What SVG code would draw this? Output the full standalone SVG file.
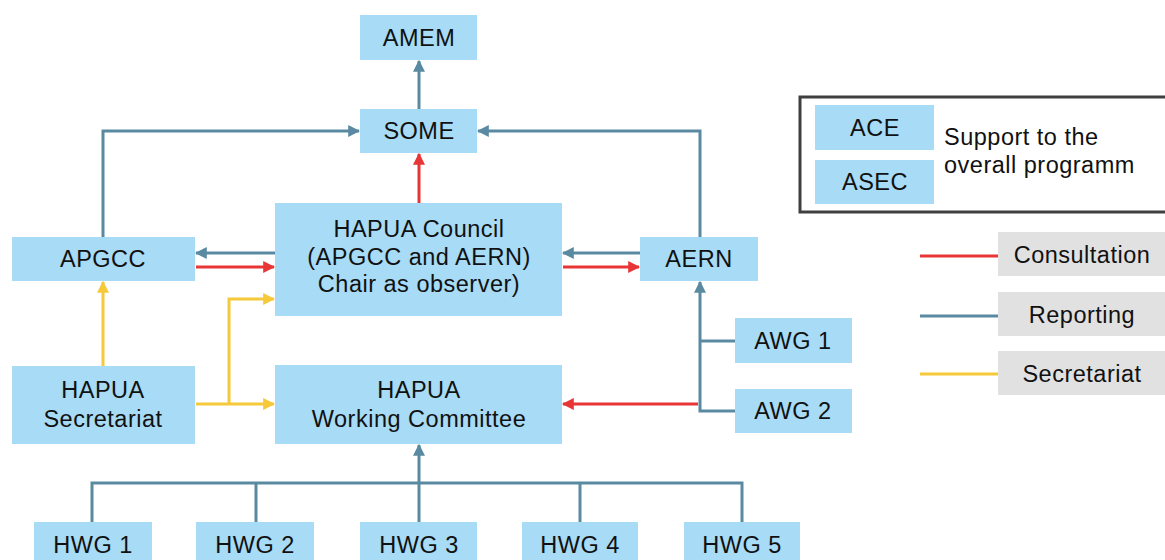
<svg xmlns="http://www.w3.org/2000/svg" width="1165" height="560" viewBox="0 0 1165 560">
  <style>
    .box { fill: #a7dbf6; }
    .tag { fill: #e1e1e1; }
    .lbl { font-family: "Liberation Sans", Arial, sans-serif; font-size: 23.5px; letter-spacing: 0.5px; fill: #111; text-anchor: middle; }
    .note { font-family: "Liberation Sans", Arial, sans-serif; font-size: 23.5px; letter-spacing: 0.5px; fill: #111; }
    .rep { stroke: #5a8aa2; stroke-width: 3; fill: none; }
    .con { stroke: #e83536; stroke-width: 3; fill: none; }
    .sec { stroke: #f5c93a; stroke-width: 3; fill: none; }
  </style>
  <defs>
    <marker id="aRep" viewBox="0 0 10 10" refX="9" refY="5" markerWidth="4" markerHeight="4" orient="auto" markerUnits="strokeWidth">
      <path d="M0,0 L10,5 L0,10 z" fill="#5a8aa2"/>
    </marker>
    <marker id="aCon" viewBox="0 0 10 10" refX="9" refY="5" markerWidth="4" markerHeight="4" orient="auto" markerUnits="strokeWidth">
      <path d="M0,0 L10,5 L0,10 z" fill="#e83536"/>
    </marker>
    <marker id="aSec" viewBox="0 0 10 10" refX="9" refY="5" markerWidth="4" markerHeight="4" orient="auto" markerUnits="strokeWidth">
      <path d="M0,0 L10,5 L0,10 z" fill="#f5c93a"/>
    </marker>
  </defs>

  <rect width="1165" height="560" fill="#ffffff"/>

  <!-- connectors -->
  <g id="connectors">
    <!-- reporting -->
    <path class="rep" d="M419,109 V61" marker-end="url(#aRep)"/>
    <path class="rep" d="M103,237 V131 H359" marker-end="url(#aRep)"/>
    <path class="rep" d="M700,237 V131 H478" marker-end="url(#aRep)"/>
    <path class="rep" d="M275,253 H196" marker-end="url(#aRep)"/>
    <path class="rep" d="M640,253 H563" marker-end="url(#aRep)"/>
    <path class="rep" d="M735,341 H700"/>
    <path class="rep" d="M735,411 H700 V282" marker-end="url(#aRep)"/>
    <path class="rep" d="M92,522 V483 H742 V522"/>
    <path class="rep" d="M256,522 V483"/>
    <path class="rep" d="M580,522 V483"/>
    <path class="rep" d="M419,522 V445" marker-end="url(#aRep)"/>
    <!-- consultation -->
    <path class="con" d="M419,203 V154" marker-end="url(#aCon)"/>
    <path class="con" d="M196,267 H274" marker-end="url(#aCon)"/>
    <path class="con" d="M563,267 H639" marker-end="url(#aCon)"/>
    <path class="con" d="M698,404 H563" marker-end="url(#aCon)"/>
    <!-- secretariat -->
    <path class="sec" d="M103,366 V282" marker-end="url(#aSec)"/>
    <path class="sec" d="M196,404 H274" marker-end="url(#aSec)"/>
    <path class="sec" d="M229,404 V299 H274" marker-end="url(#aSec)"/>
  </g>

  <g id="amem"><rect class="box" x="360" y="15" width="117" height="45"/><text class="lbl" x="419" y="46">AMEM</text></g>
  <g id="some"><rect class="box" x="360" y="109" width="117" height="44"/><text class="lbl" x="419" y="139">SOME</text></g>
  <g id="council">
    <rect class="box" x="275" y="203" width="287" height="113"/>
    <text class="lbl" x="419" y="237">HAPUA Council</text>
    <text class="lbl" x="419" y="264.5">(APGCC and AERN)</text>
    <text class="lbl" x="419" y="292">Chair as observer)</text>
  </g>
  <g id="apgcc"><rect class="box" x="12" y="237" width="183" height="44"/><text class="lbl" x="103" y="267">APGCC</text></g>
  <g id="aern"><rect class="box" x="640" y="237" width="118" height="44"/><text class="lbl" x="699" y="267">AERN</text></g>
  <g id="secretariat">
    <rect class="box" x="12" y="366" width="183" height="78"/>
    <text class="lbl" x="103" y="398">HAPUA</text>
    <text class="lbl" x="103" y="427">Secretariat</text>
  </g>
  <g id="working-committee">
    <rect class="box" x="275" y="365" width="287" height="79"/>
    <text class="lbl" x="419" y="398">HAPUA</text>
    <text class="lbl" x="419" y="427">Working Committee</text>
  </g>
  <g id="awg1"><rect class="box" x="735" y="318" width="117" height="45"/><text class="lbl" x="793" y="349">AWG 1</text></g>
  <g id="awg2"><rect class="box" x="735" y="389" width="117" height="44"/><text class="lbl" x="793" y="419">AWG 2</text></g>
  <g id="hwg1"><rect class="box" x="34" y="522" width="118" height="45"/><text class="lbl" x="93" y="553">HWG 1</text></g>
  <g id="hwg2"><rect class="box" x="196" y="522" width="118" height="45"/><text class="lbl" x="255" y="553">HWG 2</text></g>
  <g id="hwg3"><rect class="box" x="360" y="522" width="117" height="45"/><text class="lbl" x="419" y="553">HWG 3</text></g>
  <g id="hwg4"><rect class="box" x="522" y="522" width="116" height="45"/><text class="lbl" x="580" y="553">HWG 4</text></g>
  <g id="hwg5"><rect class="box" x="684" y="522" width="116" height="45"/><text class="lbl" x="742" y="553">HWG 5</text></g>

  <!-- support bodies -->
  <g id="support">
    <rect x="800" y="97" width="370" height="115" fill="#ffffff" stroke="#3f3f3f" stroke-width="3"/>
    <rect class="box" x="815" y="105" width="119" height="45"/>
    <text class="lbl" x="875" y="136">ACE</text>
    <rect class="box" x="815" y="160" width="119" height="44"/>
    <text class="lbl" x="875" y="190">ASEC</text>
    <text class="note" x="944" y="145">Support to the</text>
    <text class="note" x="944" y="173">overall programm</text>
  </g>

  <!-- line legend -->
  <g id="legend">
    <line class="con" x1="920" y1="256" x2="998" y2="256"/>
    <rect class="tag" x="998" y="232" width="167" height="44"/>
    <text class="lbl" x="1082" y="263">Consultation</text>
    <line class="rep" x1="920" y1="316" x2="998" y2="316"/>
    <rect class="tag" x="998" y="292" width="167" height="44"/>
    <text class="lbl" x="1082" y="323">Reporting</text>
    <line class="sec" x1="920" y1="374" x2="998" y2="374"/>
    <rect class="tag" x="998" y="351" width="167" height="44"/>
    <text class="lbl" x="1082" y="382">Secretariat</text>
  </g>
</svg>
